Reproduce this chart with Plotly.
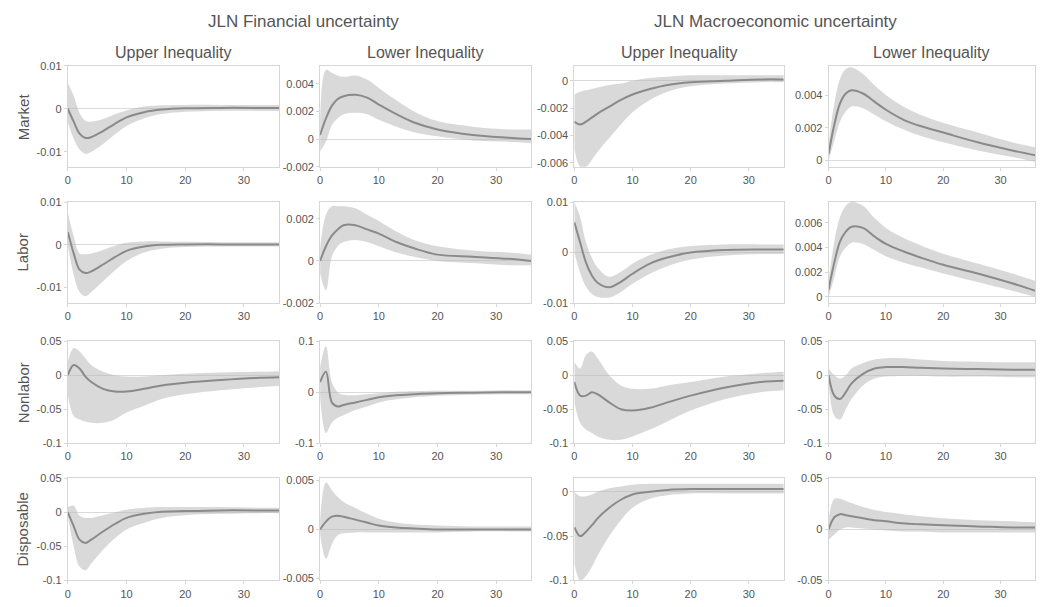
import plotly.graph_objects as go

# ---------------- data ----------------
horizon = [0, 1, 2, 3, 4, 6, 8, 10, 13, 16, 20, 26, 32, 36]

group_titles = ["JLN Financial uncertainty", "JLN Macroeconomic uncertainty"]
col_titles = ["Upper Inequality", "Lower Inequality", "Upper Inequality", "Lower Inequality"]
row_titles = ["Market", "Labor", "Nonlabor", "Disposable"]
x_ticks = [0, 10, 20, 30]

# Row 1: Market
med_r1c1 = [0.0, -0.003, -0.0058, -0.0068, -0.0066, -0.0052, -0.0035, -0.002, -0.0008, -0.0002, 0.0001, 0.0002, 0.0002, 0.0002]
lo_r1c1 = [-0.003, -0.007, -0.0095, -0.0105, -0.010, -0.0082, -0.006, -0.004, -0.0022, -0.0012, -0.0007, -0.0005, -0.0005, -0.0005]
hi_r1c1 = [0.006, 0.003, -0.001, -0.0028, -0.003, -0.0024, -0.0013, -0.0004, 0.0005, 0.0008, 0.0009, 0.0009, 0.0009, 0.0009]

med_r1c2 = [0.0003, 0.0015, 0.0024, 0.0029, 0.0031, 0.0032, 0.003, 0.0025, 0.0018, 0.0012, 0.0007, 0.0003, 0.0001, 0.0]
lo_r1c2 = [-0.0009, -0.0002, 0.001, 0.0015, 0.0018, 0.0019, 0.0018, 0.0014, 0.0009, 0.0005, 0.0002, -0.0001, -0.0002, -0.0003]
hi_r1c2 = [0.0015, 0.005, 0.0048, 0.0046, 0.0045, 0.0046, 0.0043, 0.0037, 0.0028, 0.002, 0.0013, 0.0009, 0.0007, 0.0007]

med_r1c3 = [-0.003, -0.0032, -0.003, -0.0027, -0.0024, -0.0019, -0.0014, -0.001, -0.0006, -0.0003, -0.0001, 0.0, 0.0001, 0.0001]
lo_r1c3 = [-0.005, -0.0063, -0.0063, -0.0058, -0.0052, -0.0042, -0.0032, -0.0023, -0.0014, -0.0008, -0.0004, -0.0002, -0.0001, -0.0001]
hi_r1c3 = [-0.001, -0.0008, -0.0007, -0.0006, -0.0005, -0.0003, -0.0002, 0.0, 0.0002, 0.0003, 0.0004, 0.0004, 0.0004, 0.0004]

med_r1c4 = [0.0004, 0.0022, 0.0035, 0.0041, 0.0043, 0.0041, 0.0036, 0.0031, 0.0025, 0.0021, 0.0017, 0.0011, 0.0006, 0.0003]
lo_r1c4 = [0.0, 0.0012, 0.0024, 0.003, 0.0033, 0.0032, 0.0028, 0.0024, 0.0019, 0.0015, 0.0011, 0.0006, 0.0002, -0.0001]
hi_r1c4 = [0.001, 0.0035, 0.005, 0.0056, 0.0057, 0.0053, 0.0046, 0.004, 0.0033, 0.0028, 0.0023, 0.0017, 0.0011, 0.0008]

# Row 2: Labor
med_r2c1 = [0.003, -0.002, -0.0058, -0.0066, -0.0062, -0.0046, -0.0029, -0.0014, -0.0004, 0.0, 0.0001, 0.0001, 0.0001, 0.0001]
lo_r2c1 = [0.0, -0.007, -0.011, -0.012, -0.011, -0.0085, -0.006, -0.0038, -0.0018, -0.0009, -0.0005, -0.0004, -0.0004, -0.0004]
hi_r2c1 = [0.0075, 0.002, -0.002, -0.0022, -0.002, -0.0012, -0.0002, 0.0005, 0.0008, 0.0008, 0.0007, 0.0006, 0.0006, 0.0006]

med_r2c2 = [0.0, 0.0007, 0.0012, 0.0015, 0.0017, 0.0017, 0.0015, 0.0013, 0.0009, 0.0006, 0.0003, 0.0002, 0.0001, 0.0]
lo_r2c2 = [-0.0006, -0.0014, 0.0002, 0.0007, 0.0009, 0.001, 0.0009, 0.0007, 0.0004, 0.0002, 0.0, -0.0001, -0.0002, -0.0002]
hi_r2c2 = [0.0006, 0.0022, 0.0026, 0.0026, 0.0026, 0.0025, 0.0022, 0.0019, 0.0014, 0.001, 0.0007, 0.0005, 0.0004, 0.0003]

med_r2c3 = [0.006, 0.002, -0.002, -0.0045, -0.006, -0.0069, -0.0058, -0.0042, -0.0022, -0.001, 0.0, 0.0005, 0.0006, 0.0006]
lo_r2c3 = [0.0, -0.004, -0.0068, -0.0082, -0.0088, -0.0089, -0.0078, -0.0062, -0.0042, -0.0027, -0.0014, -0.0006, -0.0003, -0.0003]
hi_r2c3 = [0.01, 0.007, 0.002, -0.001, -0.003, -0.0048, -0.0038, -0.0022, -0.0005, 0.0006, 0.0013, 0.0016, 0.0016, 0.0016]

med_r2c4 = [0.0006, 0.0028, 0.0045, 0.0053, 0.0057, 0.0056, 0.0049, 0.0043, 0.0037, 0.0032, 0.0026, 0.0019, 0.0011, 0.0005]
lo_r2c4 = [0.0, 0.0016, 0.0033, 0.004, 0.0044, 0.0043, 0.0038, 0.0033, 0.0028, 0.0024, 0.0019, 0.0012, 0.0005, 0.0]
hi_r2c4 = [0.0013, 0.0045, 0.0065, 0.0074, 0.0077, 0.0074, 0.0064, 0.0056, 0.0048, 0.0042, 0.0035, 0.0027, 0.0019, 0.0013]

# Row 3: Nonlabor
med_r3c1 = [0.0, 0.015, 0.01, -0.002, -0.01, -0.02, -0.024, -0.024, -0.02, -0.015, -0.011, -0.007, -0.004, -0.003]
lo_r3c1 = [-0.03, -0.06, -0.065, -0.068, -0.07, -0.07, -0.065, -0.055, -0.045, -0.035, -0.028, -0.022, -0.018, -0.016]
hi_r3c1 = [0.02, 0.04, 0.035, 0.025, 0.015, 0.005, 0.0, -0.002, -0.002, 0.0, 0.002, 0.004, 0.005, 0.006]

med_r3c2 = [0.02, 0.04, -0.02, -0.028, -0.025, -0.02, -0.015, -0.01, -0.006, -0.004, -0.002, -0.001, 0.0, 0.0]
lo_r3c2 = [-0.01, -0.08, -0.06, -0.05, -0.045, -0.035, -0.028, -0.02, -0.014, -0.01, -0.007, -0.005, -0.004, -0.004]
hi_r3c2 = [0.05, 0.09, 0.02, 0.0, -0.005, -0.006, -0.004, -0.002, 0.001, 0.002, 0.003, 0.003, 0.004, 0.004]

med_r3c3 = [-0.01, -0.03, -0.03, -0.025, -0.028, -0.04, -0.05, -0.052, -0.048, -0.04, -0.03, -0.018, -0.01, -0.008]
lo_r3c3 = [-0.04, -0.07, -0.08, -0.085, -0.09, -0.095, -0.095, -0.09, -0.08, -0.068, -0.052, -0.035, -0.025, -0.022]
hi_r3c3 = [0.02, 0.01, 0.03, 0.035, 0.025, 0.0, -0.015, -0.02, -0.02, -0.015, -0.01, -0.002, 0.003, 0.005]

med_r3c4 = [0.0, -0.03, -0.035, -0.025, -0.012, 0.002, 0.01, 0.012, 0.012, 0.011, 0.01, 0.009, 0.008, 0.008]
lo_r3c4 = [-0.01, -0.06, -0.065, -0.05, -0.035, -0.015, -0.005, -0.002, -0.001, -0.001, -0.002, -0.002, -0.003, -0.003]
hi_r3c4 = [0.01, 0.0, -0.005, 0.0, 0.01, 0.018, 0.023, 0.025, 0.025, 0.023, 0.021, 0.02, 0.019, 0.019]

# Row 4: Disposable
med_r4c1 = [0.0, -0.02, -0.04, -0.045, -0.04, -0.028, -0.017, -0.008, -0.002, 0.001, 0.002, 0.003, 0.003, 0.003]
lo_r4c1 = [-0.005, -0.05, -0.08, -0.085, -0.075, -0.055, -0.038, -0.025, -0.015, -0.008, -0.004, -0.002, -0.001, -0.001]
hi_r4c1 = [0.008, 0.01, -0.005, -0.008, -0.008, -0.004, 0.0, 0.004, 0.007, 0.008, 0.008, 0.008, 0.007, 0.007]

med_r4c2 = [0.0, 0.0008, 0.0013, 0.0014, 0.0013, 0.001, 0.0007, 0.0004, 0.0002, 0.0001, 0.0, 0.0, 0.0, 0.0]
lo_r4c2 = [-0.0005, -0.003, -0.0015, -0.0006, -0.0004, -0.0003, -0.0003, -0.0003, -0.0003, -0.0003, -0.0003, -0.0002, -0.0002, -0.0002]
hi_r4c2 = [0.001, 0.0048, 0.004, 0.0033, 0.0028, 0.0022, 0.0016, 0.0011, 0.0007, 0.0005, 0.0004, 0.0003, 0.0003, 0.0003]

med_r4c3 = [-0.04, -0.05, -0.045, -0.038, -0.03, -0.018, -0.009, -0.003, 0.0, 0.002, 0.003, 0.003, 0.003, 0.003]
lo_r4c3 = [-0.08, -0.1, -0.095, -0.085, -0.072, -0.05, -0.032, -0.018, -0.008, -0.004, -0.002, -0.002, -0.002, -0.002]
hi_r4c3 = [0.0, -0.005, -0.005, -0.003, 0.0, 0.004, 0.006, 0.008, 0.009, 0.009, 0.009, 0.009, 0.009, 0.009]

med_r4c4 = [0.0, 0.012, 0.015, 0.014, 0.013, 0.011, 0.009, 0.008, 0.006, 0.005, 0.004, 0.003, 0.002, 0.002]
lo_r4c4 = [-0.01, -0.005, 0.0, 0.002, 0.002, 0.001, 0.0, -0.001, -0.002, -0.002, -0.003, -0.003, -0.003, -0.003]
hi_r4c4 = [0.01, 0.03, 0.03, 0.028, 0.026, 0.022, 0.019, 0.017, 0.015, 0.013, 0.011, 0.009, 0.008, 0.007]

# y-axis settings per panel (range, tick values, tick labels)
yaxes_cfg = [
    [([-0.0135, 0.01], [-0.01, 0, 0.01], ["-0.01", "0", "0.01"]),
     ([-0.002, 0.0053], [-0.002, 0, 0.002, 0.004], ["-0.002", "0", "0.002", "0.004"]),
     ([-0.0063, 0.0011], [-0.006, -0.004, -0.002, 0], ["-0.006", "-0.004", "-0.002", "0"]),
     ([-0.0004, 0.0058], [0, 0.002, 0.004], ["0", "0.002", "0.004"])],
    [([-0.0136, 0.01], [-0.01, 0, 0.01], ["-0.01", "0", "0.01"]),
     ([-0.002, 0.0028], [-0.002, 0, 0.002], ["-0.002", "0", "0.002"]),
     ([-0.01, 0.01], [-0.01, 0, 0.01], ["-0.01", "0", "0.01"]),
     ([-0.0005, 0.0077], [0, 0.002, 0.004, 0.006], ["0", "0.002", "0.004", "0.006"])],
    [([-0.1, 0.05], [-0.1, -0.05, 0, 0.05], ["-0.1", "-0.05", "0", "0.05"]),
     ([-0.1, 0.1], [-0.1, 0, 0.1], ["-0.1", "0", "0.1"]),
     ([-0.1, 0.05], [-0.1, -0.05, 0, 0.05], ["-0.1", "-0.05", "0", "0.05"]),
     ([-0.1, 0.05], [-0.1, -0.05, 0, 0.05], ["-0.1", "-0.05", "0", "0.05"])],
    [([-0.1, 0.05], [-0.1, -0.05, 0, 0.05], ["-0.1", "-0.05", "0", "0.05"]),
     ([-0.0052, 0.0052], [-0.005, 0, 0.005], ["-0.005", "0", "0.005"]),
     ([-0.1, 0.015], [-0.1, -0.05, 0], ["-0.1", "-0.05", "0"]),
     ([-0.05, 0.05], [-0.05, 0, 0.05], ["-0.05", "0", "0.05"])],
]

panels = [
    [(med_r1c1, lo_r1c1, hi_r1c1), (med_r1c2, lo_r1c2, hi_r1c2), (med_r1c3, lo_r1c3, hi_r1c3), (med_r1c4, lo_r1c4, hi_r1c4)],
    [(med_r2c1, lo_r2c1, hi_r2c1), (med_r2c2, lo_r2c2, hi_r2c2), (med_r2c3, lo_r2c3, hi_r2c3), (med_r2c4, lo_r2c4, hi_r2c4)],
    [(med_r3c1, lo_r3c1, hi_r3c1), (med_r3c2, lo_r3c2, hi_r3c2), (med_r3c3, lo_r3c3, hi_r3c3), (med_r3c4, lo_r3c4, hi_r3c4)],
    [(med_r4c1, lo_r4c1, hi_r4c1), (med_r4c2, lo_r4c2, hi_r4c2), (med_r4c3, lo_r4c3, hi_r4c3), (med_r4c4, lo_r4c4, hi_r4c4)],
]

# ---------------- layout geometry (pixels) ----------------
W, H = 1040, 607
col_px = [(65, 277), (318, 530), (573, 783), (828, 1035)]
row_px = [(61, 164), (200, 303), (342, 446), (482, 586)]

TEXT = "#555555"
FRAME = "#d6d6d6"
BAND = "rgba(185,185,185,0.55)"
LINE = "#8a8a8a"
FONT = "Liberation Sans, Arial, sans-serif"

fig = go.Figure()
layout = dict(
    width=W, height=H,
    margin=dict(l=0, r=0, t=0, b=0),
    paper_bgcolor="white", plot_bgcolor="white",
    showlegend=False,
    font=dict(family=FONT, color=TEXT, size=11),
)

annotations = []
k = 0
for r in range(4):
    for c in range(4):
        k += 1
        xa = "x" if k == 1 else f"x{k}"
        ya = "y" if k == 1 else f"y{k}"
        med, lo, hi = panels[r][c]
        fig.add_trace(go.Scatter(x=horizon, y=lo, mode="lines", line=dict(width=0, shape="spline"),
                                 hoverinfo="skip", xaxis=xa, yaxis=ya))
        fig.add_trace(go.Scatter(x=horizon, y=hi, mode="lines", line=dict(width=0, shape="spline"),
                                 fill="tonexty", fillcolor=BAND, hoverinfo="skip", xaxis=xa, yaxis=ya))
        fig.add_trace(go.Scatter(x=horizon, y=med, mode="lines", line=dict(color=LINE, width=2, shape="spline"),
                                 xaxis=xa, yaxis=ya))
        x0, x1 = col_px[c]
        y0, y1 = row_px[r]
        yr, tv, tt = yaxes_cfg[r][c]
        xkey = "xaxis" if k == 1 else f"xaxis{k}"
        ykey = "yaxis" if k == 1 else f"yaxis{k}"
        layout[xkey] = dict(
            domain=[x0 / W, x1 / W], anchor=ya, range=[0, 36],
            tickvals=x_ticks, ticks="outside", ticklen=3, tickcolor=FRAME,
            showline=True, mirror=True, linecolor=FRAME, linewidth=1,
            showgrid=False, zeroline=False, tickfont=dict(size=11, color=TEXT),
        )
        layout[ykey] = dict(
            domain=[1 - y1 / H, 1 - y0 / H], anchor=xa, range=yr,
            tickvals=tv, ticktext=tt, ticks="outside", ticklen=3, tickcolor=FRAME,
            showline=True, mirror=True, linecolor=FRAME, linewidth=1,
            showgrid=False, zeroline=True, zerolinecolor="#dadada", zerolinewidth=1,
            tickfont=dict(size=11, color=TEXT),
        )

# group titles
annotations.append(dict(text=group_titles[0], x=301 / W, y=1 - 16 / H, xref="paper", yref="paper",
                        showarrow=False, font=dict(size=17, color=TEXT), xanchor="center", yanchor="middle"))
annotations.append(dict(text=group_titles[1], x=775 / W, y=1 - 16 / H, xref="paper", yref="paper",
                        showarrow=False, font=dict(size=17, color=TEXT), xanchor="center", yanchor="middle"))
# column titles
for c in range(4):
    x0, x1 = col_px[c]
    annotations.append(dict(text=col_titles[c], x=(x0 + x1) / 2 / W, y=1 - 47 / H, xref="paper", yref="paper",
                            showarrow=False, font=dict(size=16, color=TEXT), xanchor="center", yanchor="middle"))
# row titles
for r in range(4):
    y0, y1 = row_px[r]
    annotations.append(dict(text=row_titles[r], x=20 / W, y=1 - (y0 + y1) / 2 / H, xref="paper", yref="paper",
                            showarrow=False, textangle=-90, font=dict(size=15, color=TEXT),
                            xanchor="center", yanchor="middle"))

layout["annotations"] = annotations
fig.update_layout(**layout)
fig.write_html("out.html")
